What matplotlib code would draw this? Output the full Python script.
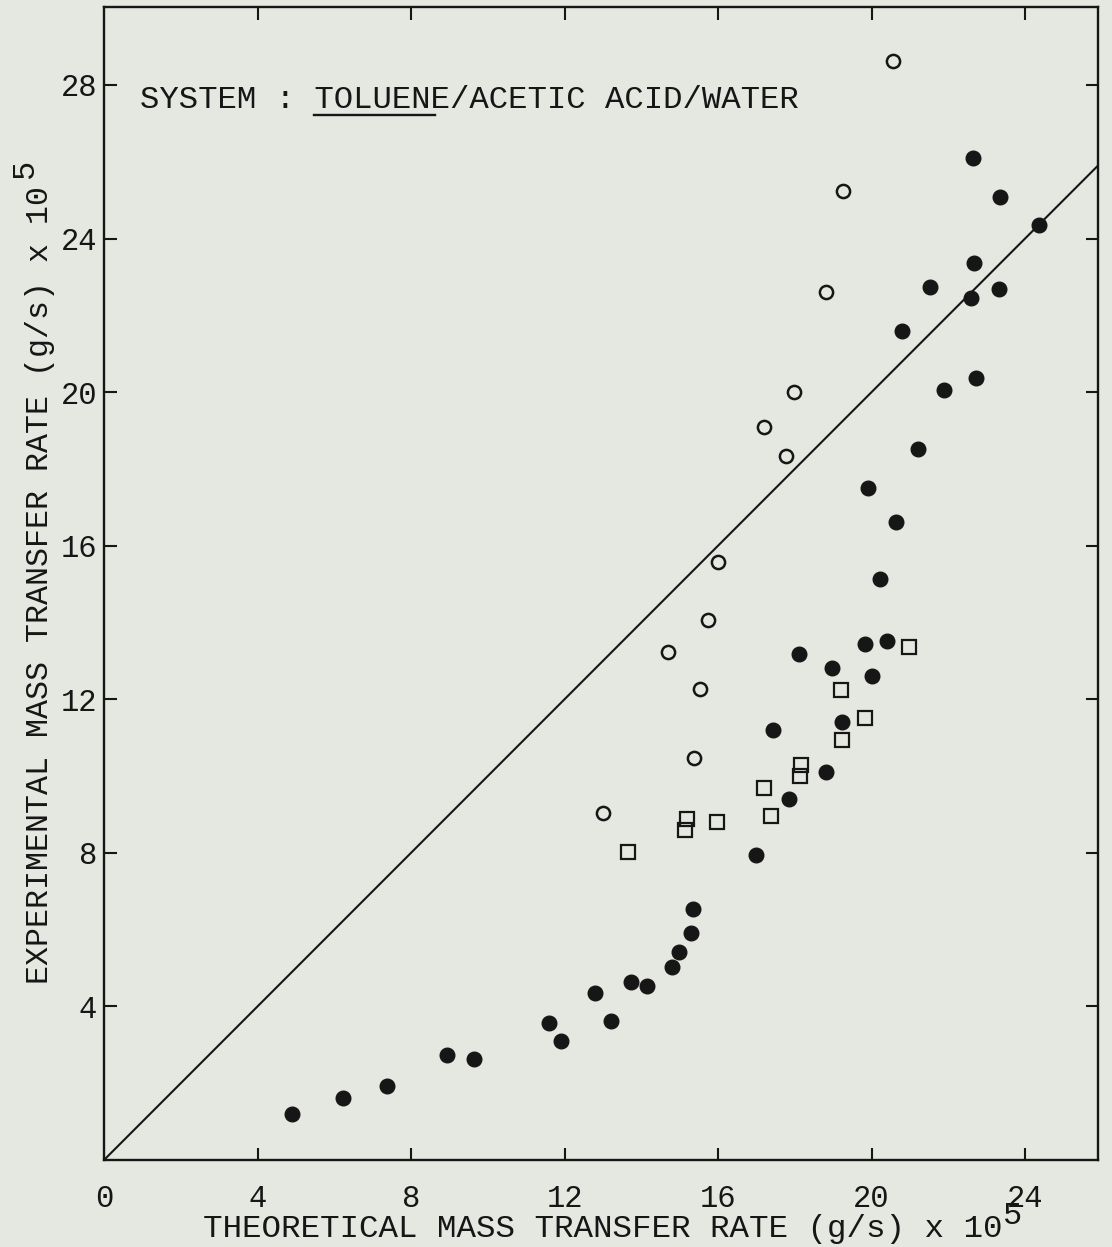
import matplotlib
matplotlib.use("Agg")
import matplotlib.pyplot as plt
from matplotlib.lines import Line2D

# Theoretical vs experimental mass transfer rate, (g/s) x 10^5
filled_x = [4.90, 6.22, 7.38, 8.93, 9.64, 11.60, 11.92, 12.79, 13.20, 13.72, 14.15, 14.81,
            14.97, 15.29, 15.35, 17.00, 17.84, 18.80, 17.43, 19.23, 20.01, 18.97, 18.11, 19.84,
            20.41, 20.21, 20.64, 19.92, 21.21, 21.88, 22.73, 20.79, 22.58, 23.33, 21.52, 22.68,
            24.36, 23.35, 22.64]
filled_y = [1.19, 1.62, 1.94, 2.73, 2.63, 3.57, 3.11, 4.36, 3.62, 4.63, 4.53, 5.03,
            5.43, 5.92, 6.54, 7.94, 9.39, 10.10, 11.20, 11.41, 12.61, 12.82, 13.17, 13.43,
            13.52, 15.12, 16.62, 17.50, 18.51, 20.06, 20.36, 21.58, 22.46, 22.69, 22.74, 23.37,
            24.34, 25.08, 26.10]

open_x = [13.00, 15.37, 15.52, 14.70, 15.74, 16.00, 17.78, 17.21, 17.99, 18.80, 19.25, 20.55]
open_y = [9.03, 10.46, 12.28, 13.22, 14.06, 15.58, 18.33, 19.10, 20.01, 22.61, 25.24, 28.62]

square_x = [13.65, 15.13, 15.20, 15.98, 17.39, 17.20, 18.13, 18.17, 19.24, 19.82, 19.21, 20.97]
square_y = [8.01, 8.59, 8.88, 8.81, 8.96, 9.68, 10.01, 10.30, 10.94, 11.50, 12.24, 13.37]

# line of perfect agreement
diag = [0, 26]

x_ticks = [4, 8, 12, 16, 20, 24]
x_ticklabels = ["0", "4", "8", "12", "16", "20", "24"]
y_ticks = [4, 8, 12, 16, 20, 24, 28]

paper = "#e5e7e1"
ink = "#161616"
mono = "Liberation Mono"

fig = plt.figure(figsize=(11.12, 12.47), dpi=100, facecolor=paper)
ax = fig.add_axes([104 / 1112, 1 - 1160 / 1247, (1098 - 104) / 1112, (1160 - 7) / 1247])
ax.set_facecolor(paper)

ax.plot(diag, diag, color=ink, lw=1.5, zorder=2)
ax.plot(filled_x, filled_y, "o", ms=10.5, color=ink, mec=ink, zorder=3)
ax.plot(open_x, open_y, "o", ms=9.5, mfc="none", mec=ink, mew=1.8, zorder=3)
ax.plot(square_x, square_y, "s", ms=9.5, mfc="none", mec=ink, mew=1.6, zorder=3)

ax.set_xlim(0, 25.9)
ax.set_ylim(0, 30.03)

ax.set_xticks([0] + x_ticks)
ax.set_xticklabels(x_ticklabels)
ax.set_yticks(y_ticks)
ax.set_yticklabels([str(v) for v in y_ticks])
ax.tick_params(axis="both", direction="in", length=9, width=1.5, color=ink,
               labelsize=22, labelcolor=ink, top=True, right=True)
ax.tick_params(axis="x", pad=17)
ax.tick_params(axis="y", pad=5)
ax.xaxis.get_major_ticks()[0].tick1line.set_visible(False)
ax.xaxis.get_major_ticks()[0].tick2line.set_visible(False)
for lbl in ax.get_xticklabels() + ax.get_yticklabels():
    lbl.set_fontfamily(mono)
for sp in ax.spines.values():
    sp.set_linewidth(1.7)
    sp.set_color(ink)

# axis titles with a raised exponent
fig.text(603 / 1112, 1 - 1229 / 1247, "THEORETICAL MASS TRANSFER RATE (g/s) x 10",
         ha="center", va="center", fontsize=23.4, family=mono, color=ink)
fig.text(1013 / 1112, 1 - 1216 / 1247, "5", ha="center", va="center",
         fontsize=23, family=mono, color=ink)
fig.text(40 / 1112, 1 - 585 / 1247, "EXPERIMENTAL MASS TRANSFER RATE (g/s) x 10",
         ha="center", va="center", rotation=90, fontsize=22.8, family=mono, color=ink)
fig.text(25 / 1112, 1 - 168 / 1247, "5", ha="center", va="center", rotation=90,
         fontsize=23, family=mono, color=ink)

# system annotation with the continuous phase underlined
system = "SYSTEM : TOLUENE/ACETIC ACID/WATER"
t = fig.text(140 / 1112, 1 - 108 / 1247, system, ha="left", va="baseline",
             fontsize=23.3, family=mono, color=ink)
fig.canvas.draw()
bb = t.get_window_extent().transformed(fig.transFigure.inverted())
cw = bb.width / len(system)
start = system.index("TOLUENE")
uy = 1 - 115 / 1247
fig.add_artist(Line2D([bb.x0 + cw * start, bb.x0 + cw * (start + 6.2)], [uy, uy],
                      transform=fig.transFigure, color=ink, lw=1.7))

fig.savefig("out.png", dpi=100, facecolor=paper)
